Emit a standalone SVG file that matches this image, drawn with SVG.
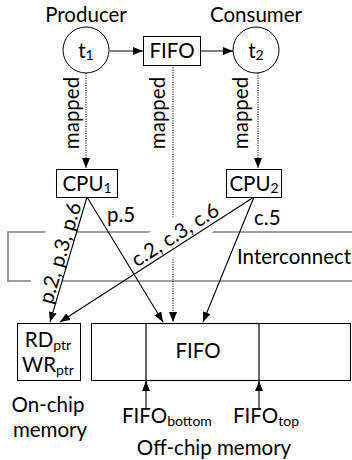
<svg xmlns="http://www.w3.org/2000/svg" width="352" height="460" viewBox="0 0 352 460">
<style>
text{font-family:Lato,"Liberation Sans",sans-serif;font-size:20.5px;fill:#000}
.sub{font-size:14px}
.n{fill:#fff;stroke:#000;stroke-width:1}
.c{fill:none;stroke:#000;stroke-width:1.1}
.d{fill:none;stroke:#000;stroke-width:1;stroke-dasharray:1.2 1.2}
.ic{fill:none;stroke:#808080;stroke-width:1.6}
.bg{fill:#fff}
</style>
<defs>
<marker id="ah" viewBox="0 0 10 8" refX="10" refY="4" markerWidth="10" markerHeight="8" markerUnits="userSpaceOnUse" orient="auto">
<path d="M0,0 L10,4 L0,8 Z" fill="#000"/>
</marker>
</defs>
<rect width="352" height="460" fill="#fff"/>

<g id="interconnect">
<path class="ic" d="M352,232 H8 V281 H352"/>
<text x="237" y="264">Interconnect</text>
</g>

<g id="mapped-lines">
<line class="d" x1="86" y1="73" x2="86" y2="168" marker-end="url(#ah)"/>
<line class="d" x1="173" y1="65" x2="173" y2="322" marker-end="url(#ah)"/>
<line class="d" x1="258" y1="73" x2="258" y2="168" marker-end="url(#ah)"/>
<text transform="translate(79,113) rotate(-90)" text-anchor="middle">mapped</text>
<text transform="translate(165,113) rotate(-90)" text-anchor="middle">mapped</text>
<text transform="translate(248,113) rotate(-90)" text-anchor="middle">mapped</text>
</g>

<g id="labels">
<g transform="translate(50,322) rotate(-73.5)">
<rect class="bg" x="17" y="-30" width="103" height="30"/>
<text x="69" y="-3" text-anchor="middle">p.2, p.3, p.6</text>
</g>
<g transform="translate(60,322) rotate(-32.8)">
<rect class="bg" x="90" y="-27" width="106" height="34"/>
<text x="144" y="-4" text-anchor="middle">c.2, c.3, c.6</text>
</g>
<text x="107" y="222">p.5</text>
<text x="254" y="225">c.5</text>
</g>

<g id="connectors">
<line class="c" x1="110" y1="51" x2="143" y2="51" marker-end="url(#ah)"/>
<line class="c" x1="200" y1="51" x2="233" y2="51" marker-end="url(#ah)"/>
<line class="c" x1="87" y1="197" x2="50" y2="322" marker-end="url(#ah)"/>
<line class="c" x1="87" y1="197" x2="163" y2="322" marker-end="url(#ah)"/>
<line class="c" x1="254" y1="197" x2="60" y2="322" marker-end="url(#ah)"/>
<line class="c" x1="254" y1="197" x2="203" y2="322" marker-end="url(#ah)"/>
<line class="c" x1="146" y1="410" x2="146" y2="381" marker-end="url(#ah)"/>
<line class="c" x1="259" y1="410" x2="259" y2="381" marker-end="url(#ah)"/>
</g>

<g id="t1">
<text x="86" y="22" text-anchor="middle">Producer</text>
<circle class="n" cx="86" cy="50" r="23"/>
<text x="86" y="58" text-anchor="middle">t<tspan class="sub" dy="2">1</tspan></text>
</g>
<g id="fifo-task">
<rect class="n" x="143.5" y="36.5" width="57" height="29"/>
<text x="172" y="58" text-anchor="middle">FIFO</text>
</g>
<g id="t2">
<text x="256" y="22" text-anchor="middle">Consumer</text>
<circle class="n" cx="256" cy="50" r="23"/>
<text x="256" y="58" text-anchor="middle">t<tspan class="sub" dy="2">2</tspan></text>
</g>
<g id="cpu1">
<rect class="n" x="56.5" y="169.5" width="61" height="28"/>
<text x="87" y="191" text-anchor="middle">CPU<tspan class="sub" dy="2">1</tspan></text>
</g>
<g id="cpu2">
<rect class="n" x="226.5" y="169.5" width="55" height="28"/>
<text x="254" y="191" text-anchor="middle">CPU<tspan class="sub" dy="2">2</tspan></text>
</g>
<g id="onchip">
<rect class="n" x="17.5" y="323.5" width="63" height="57"/>
<text x="48" y="347" text-anchor="middle">RD<tspan class="sub" dy="3">ptr</tspan></text>
<text x="48" y="372" text-anchor="middle">WR<tspan class="sub" dy="3">ptr</tspan></text>
<text x="48" y="412" text-anchor="middle">On-chip</text>
<text x="50" y="437" text-anchor="middle">memory</text>
</g>
<g id="offchip">
<rect class="n" x="91.5" y="323.5" width="259" height="57"/>
<rect fill="none" stroke="#000" stroke-width="1.2" x="146" y="323.5" width="113" height="57"/>
<text x="198" y="358" text-anchor="middle">FIFO</text>
<text x="122" y="423">FIFO<tspan class="sub" dy="3">bottom</tspan></text>
<text x="233" y="423">FIFO<tspan class="sub" dy="3">top</tspan></text>
<text x="214" y="455" text-anchor="middle">Off-chip memory</text>
</g>
</svg>
